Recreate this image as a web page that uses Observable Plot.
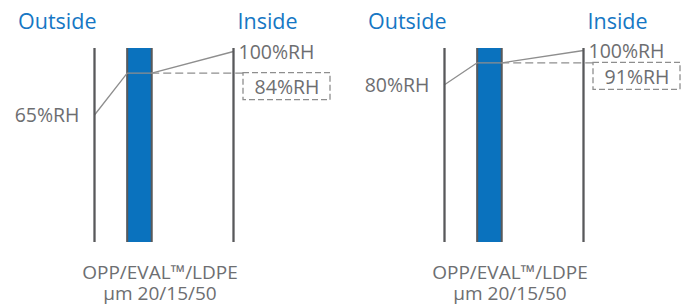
<!DOCTYPE html>
<html><head><meta charset="utf-8">
<script src="https://cdn.jsdelivr.net/npm/d3@7"></script>
<script src="https://cdn.jsdelivr.net/npm/@observablehq/plot@0.6"></script>
<style>
body{margin:0;background:#fff}
#chart{display:flex;width:685px;height:306px;overflow:hidden}
</style>
</head><body><div id="chart"></div>
<script>
// Film structure (outside -> inside)
const layers = ["OPP", "EVAL™", "LDPE"];
const thickness = [20, 15, 50]; // µm
const sideTitles = ["Outside", "Inside"];
// Relative humidity per panel
const outsideRH = [65, 80];
const evalRH = [84, 91];
const insideRH = [100, 100];

const blue = "#0a72be";
const titleBlue = "#1677c4";
const wallGray = "#58595b";
const lineGray = "#8e8e8e";
const textGray = "#6d6e71";

// schematic (non-linear) vertical placement of the RH levels in each panel
const yRanges = [[114.5, 72.7, 51], [84.3, 62.3, 50]];
const panelWidths = [350, 335];

function panel(i) {
  const W = panelWidths[i];
  const t0 = 0, t1 = thickness[0], t2 = t1 + thickness[1], t3 = t2 + thickness[2];
  const ev = evalRH[i];
  const profile = [
    {x: t0, rh: outsideRH[i]},
    {x: t1, rh: ev},
    {x: t2, rh: ev},
    {x: t3, rh: insideRH[i]}
  ];
  const schematic = d3.scaleLinear().domain([outsideRH[i], ev, insideRH[i]]).range(yRanges[i]);
  const labelCenter = 159.5;
  return Plot.plot({
    width: W,
    height: 306,
    marginTop: 48,
    marginBottom: 64,
    marginLeft: 0,
    marginRight: W - 2 * labelCenter,
    style: {fontFamily: "Open Sans", color: textGray, background: "transparent", overflow: "visible"},
    x: {domain: [t0, t3], range: [94, 233], axis: null},
    y: {transform: schematic, domain: [0, 306], range: [0, 306], axis: null},
    marks: [
      // EVAL layer bar
      Plot.rect([{x1: t1, x2: t2}], {x1: "x1", x2: "x2", fill: blue}),
      Plot.ruleX([t1, t2], {x: d => d, stroke: wallGray, strokeWidth: 2}),
      // dashed level line to boxed label
      Plot.ruleY([ev], {y: d => d, x1: t2, x2: t3, insetRight: -10, stroke: lineGray, strokeWidth: 1.3, strokeDasharray: "8,4"}),
      // RH profile
      Plot.line(profile, {x: "x", y: "rh", stroke: lineGray, strokeWidth: 1.3}),
      // outer walls
      Plot.ruleX([t0, t3], {x: d => d, stroke: wallGray, strokeWidth: 2.3}),
      // boxed EVAL RH label
      Plot.rect([{x: t3, rh: ev}], {x1: "x", x2: "x", y1: "rh", y2: "rh", insetLeft: 10, insetRight: -97, insetBottom: -27, fill: "none", stroke: lineGray, strokeWidth: 1.3, strokeDasharray: "6,3"}),
      Plot.text([{x: t3, rh: ev}], {x: "x", y: "rh", text: d => `${d.rh}%RH`, textAnchor: "middle", dx: 53.5, dy: 14.5, fontSize: 19.5}),
      // outside / inside RH labels
      Plot.text([profile[0]], {x: "x", y: "rh", text: d => `${d.rh}%RH`, textAnchor: "end", dx: -15, dy: 1, fontSize: 19.5}),
      Plot.text([profile[3]], {x: "x", y: "rh", text: d => `${d.rh}%RH`, textAnchor: "start", dx: 5, dy: 1, fontSize: 19.5}),
      // side titles
      Plot.text([t0], {x: d => d, text: () => sideTitles[0], frameAnchor: "top", lineAnchor: "middle", textAnchor: "end", dx: 2, dy: -26, fill: titleBlue, fontSize: 21.5}),
      Plot.text([t3], {x: d => d, text: () => sideTitles[1], frameAnchor: "top", lineAnchor: "middle", textAnchor: "start", dx: 4, dy: -26, fill: titleBlue, fontSize: 21.5}),
      // structure label (two lines)
      Plot.text([0], {text: () => layers.join("/"), frameAnchor: "bottom", lineAnchor: "middle", dy: 30, fontSize: 19}),
      Plot.text([0], {text: () => `µm ${thickness.join("/")}`, frameAnchor: "bottom", lineAnchor: "middle", dy: 51, fontSize: 19})
    ]
  });
}

const chart = document.getElementById("chart");
chart.append(panel(0), panel(1));
</script>
</body></html>
